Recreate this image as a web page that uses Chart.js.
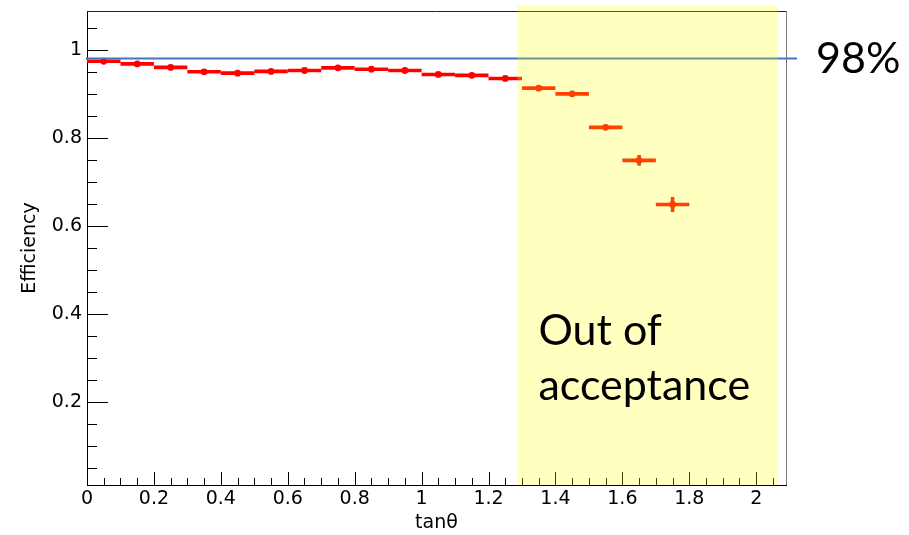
<!DOCTYPE html>
<html><head><meta charset="utf-8">
<script src="https://cdn.jsdelivr.net/npm/chart.js@4/dist/chart.umd.min.js"></script>
<style>html,body{margin:0;padding:0;background:#fff}</style>
</head><body>
<canvas id="c" width="909" height="535"></canvas>
<script>
// ---- data ----
const binCenters = [0.05,0.15,0.25,0.35,0.45,0.55,0.65,0.75,0.85,0.95,1.05,1.15,1.25,1.35,1.45,1.55,1.65,1.75];
const efficiency = [0.974,0.968,0.960,0.950,0.947,0.951,0.953,0.959,0.956,0.953,0.944,0.942,0.935,0.913,0.900,0.824,0.749,0.649];
const effError   = [0.002,0.002,0.002,0.002,0.002,0.002,0.002,0.002,0.002,0.002,0.002,0.003,0.003,0.004,0.004,0.006,0.012,0.017];
const binHalfWidth = 0.05;
const xTickValues = [0,0.2,0.4,0.6,0.8,1,1.2,1.4,1.6,1.8,2];
const yTickValues = [0.2,0.4,0.6,0.8,1];
const minorStep = 0.05;
const xRange = [0, 2.089];
const yRange = [0.0125, 1.088];
const refLevel = 0.98;
const refLabel = '98%';
const acceptanceRegion = [1.286, 2.065];
const regionLabel = ['Out of', 'acceptance'];
const regionLabelPos = [1.349, 0.33, 0.205];
const xTitle = 'tan\u03b8';
const yTitle = 'Efficiency';

const points = binCenters.map((x, i) => ({x: x, y: efficiency[i]}));
const fmt = v => String(+v.toFixed(2));
const axisFont = {family: 'DejaVu Sans', size: 19};

const decor = {
  id: 'decor',
  beforeDatasetsDraw(chart) {
    const {ctx} = chart;
    const xs = chart.scales.x, ys = chart.scales.y;
    ctx.save();
    ctx.strokeStyle = '#ff0000';
    ctx.lineWidth = 3.6;
    ctx.lineCap = 'butt';
    binCenters.forEach((x, i) => {
      const y = efficiency[i], e = effError[i];
      ctx.beginPath();
      ctx.moveTo(xs.getPixelForValue(x - binHalfWidth), ys.getPixelForValue(y));
      ctx.lineTo(xs.getPixelForValue(x + binHalfWidth), ys.getPixelForValue(y));
      ctx.moveTo(xs.getPixelForValue(x), ys.getPixelForValue(y - e));
      ctx.lineTo(xs.getPixelForValue(x), ys.getPixelForValue(y + e));
      ctx.stroke();
    });
    ctx.restore();
  },
  afterDatasetsDraw(chart) {
    const {ctx, chartArea: a} = chart;
    const xs = chart.scales.x, ys = chart.scales.y;
    ctx.save();
    // ticks inward (ROOT style)
    ctx.strokeStyle = '#000';
    ctx.lineWidth = 1;
    ctx.beginPath();
    for (let k = 1; k * minorStep <= yRange[1]; k++) {
      const v = k * minorStep;
      if (v < yRange[0]) continue;
      const major = Math.abs(v / 0.2 - Math.round(v / 0.2)) < 1e-6;
      const py = Math.round(ys.getPixelForValue(v)) + 0.5;
      ctx.moveTo(a.left, py);
      ctx.lineTo(a.left + (major ? 21 : 10), py);
    }
    for (let k = 1; k * minorStep <= xRange[1]; k++) {
      const v = k * minorStep;
      const major = Math.abs(v / 0.2 - Math.round(v / 0.2)) < 1e-6;
      const px = Math.round(xs.getPixelForValue(v)) + 0.5;
      ctx.moveTo(px, a.bottom);
      ctx.lineTo(px, a.bottom - (major ? 13 : 7));
    }
    ctx.stroke();
    // frame top / right
    ctx.beginPath();
    ctx.strokeStyle = '#222';
    ctx.moveTo(a.left, Math.round(a.top) + 0.5);
    ctx.lineTo(a.right, Math.round(a.top) + 0.5);
    ctx.stroke();
    ctx.beginPath();
    ctx.strokeStyle = '#777';
    ctx.moveTo(Math.round(a.right) + 0.5, a.top);
    ctx.lineTo(Math.round(a.right) + 0.5, a.bottom);
    ctx.stroke();
    // reference line
    const ry = ys.getPixelForValue(refLevel);
    ctx.beginPath();
    ctx.strokeStyle = '#4472c4';
    ctx.lineWidth = 2;
    ctx.moveTo(a.left - 1, ry);
    ctx.lineTo(a.right + 11, ry);
    ctx.stroke();
    // acceptance region overlay
    const x0 = xs.getPixelForValue(acceptanceRegion[0]);
    const x1 = xs.getPixelForValue(acceptanceRegion[1]);
    ctx.fillStyle = 'rgba(255,255,0,0.25)';
    ctx.fillRect(x0, a.top - 5, x1 - x0, a.bottom - a.top + 5);
    // texts
    ctx.fillStyle = '#000';
    ctx.font = '43px Lato';
    ctx.textAlign = 'left';
    ctx.textBaseline = 'alphabetic';
    const lx = xs.getPixelForValue(regionLabelPos[0]);
    ctx.fillText(regionLabel[0], lx, ys.getPixelForValue(regionLabelPos[1]));
    ctx.fillText(regionLabel[1], lx, ys.getPixelForValue(regionLabelPos[2]));
    ctx.textBaseline = 'middle';
    ctx.fillText(refLabel, a.right + 30, ry + 1);
    ctx.restore();
  }
};

new Chart(document.getElementById('c'), {
  type: 'scatter',
  data: {
    datasets: [{
      data: points,
      backgroundColor: '#ff0000',
      borderColor: '#ff0000',
      pointRadius: 3.4,
      pointBorderWidth: 0,
      pointHoverRadius: 3.4,
      showLine: false
    }]
  },
  options: {
    responsive: false,
    animation: false,
    devicePixelRatio: 1,
    layout: {padding: {left: 0, right: 123, top: 11, bottom: 0}},
    plugins: {legend: {display: false}, tooltip: {enabled: false}},
    scales: {
      x: {
        type: 'linear', min: xRange[0], max: xRange[1],
        afterBuildTicks: s => { s.ticks = xTickValues.map(v => ({value: v})); },
        afterFit: s => { s.height = 50; s.paddingLeft = 0; s.paddingRight = 0; },
        grid: {display: false, drawTicks: false},
        border: {display: true, color: '#000', width: 1},
        ticks: {color: '#000', font: axisFont, padding: 3, maxRotation: 0, autoSkip: false, callback: v => fmt(v)},
        title: {display: true, text: xTitle, color: '#000', font: axisFont, padding: {top: 0, bottom: 1}}
      },
      y: {
        type: 'linear', min: yRange[0], max: yRange[1],
        afterBuildTicks: s => { s.ticks = yTickValues.map(v => ({value: v})); },
        afterFit: s => { s.width = 87; s.paddingTop = 0; s.paddingBottom = 0; },
        grid: {display: false, drawTicks: false},
        border: {display: true, color: '#000', width: 1},
        ticks: {color: '#000', font: axisFont, padding: 5, autoSkip: false, callback: v => fmt(v)},
        title: {display: true, text: yTitle, color: '#000', font: axisFont, padding: {top: 19, bottom: 0}}
      }
    }
  },
  plugins: [decor]
});
</script>
</body></html>
